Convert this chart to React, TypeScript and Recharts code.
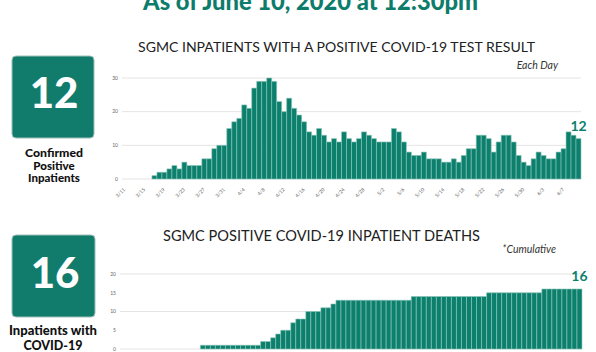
import React from 'react';
import { BarChart, Bar, XAxis, YAxis, CartesianGrid, LabelList } from 'recharts';

const dates: string[] = [
  '3/11','3/12','3/13','3/14','3/15','3/16','3/17','3/18','3/19','3/20','3/21','3/22','3/23','3/24','3/25','3/26','3/27','3/28','3/29','3/30','3/31',
  '4/1','4/2','4/3','4/4','4/5','4/6','4/7','4/8','4/9','4/10','4/11','4/12','4/13','4/14','4/15','4/16','4/17','4/18','4/19','4/20','4/21','4/22','4/23','4/24','4/25','4/26','4/27','4/28','4/29','4/30',
  '5/1','5/2','5/3','5/4','5/5','5/6','5/7','5/8','5/9','5/10','5/11','5/12','5/13','5/14','5/15','5/16','5/17','5/18','5/19','5/20','5/21','5/22','5/23','5/24','5/25','5/26','5/27','5/28','5/29','5/30','5/31',
  '6/1','6/2','6/3','6/4','6/5','6/6','6/7','6/8','6/9','6/10',
];

const dailyInpatients: number[] = [
  0,0,0,0,0,0,1,2,2,3,4,3,5,4,4,4,6,6,9,10,10,
  15,17,18,22,21,27,29,29,30,29,23,20,24,21,19,17,14,13,15,13,11,12,11,14,12,11,12,14,13,12,
  11,11,11,15,14,11,8,7,7,8,6,6,6,5,5,6,5,7,9,9,13,13,12,8,11,13,13,11,7,5,4,
  6,8,7,6,6,8,9,14,13,12,
];

const cumulativeDeaths: number[] = [
  0,0,0,0,0,0,0,0,0,0,0,0,0,0,0,0,1,1,1,1,1,
  1,1,1,1,1,1,1,2,2,3,4,5,5,7,8,8,10,10,10,11,11,12,13,13,13,13,13,13,13,13,
  13,13,13,13,13,13,13,14,14,14,14,14,14,14,14,14,14,14,14,14,14,14,15,15,15,15,15,15,15,15,15,15,15,
  16,16,16,16,16,16,16,16,16,16,
];

const topTicks: number[] = [0, 10, 20, 30];
const bottomTicks: number[] = [0, 5, 10, 15, 20];

const TEAL = '#0c7f6d';
const lastIdx = dates.length - 1;
const dailyData = dates.map((d, i) => ({ date: d, v: dailyInpatients[i], lbl: i === lastIdx ? dailyInpatients[i] : null }));
const deathData = dates.map((d, i) => ({ date: d, v: cumulativeDeaths[i], lbl: i === lastIdx ? cumulativeDeaths[i] : null }));

const RotTick = (props: any) => {
  const { x, y, payload } = props;
  const tx = x + 1;
  const ty = y + 3;
  return (
    <text x={tx} y={ty} transform={`rotate(-45 ${tx} ${ty})`} textAnchor="end" fontSize={5} fill="#666" fontFamily="Lato">
      {payload.value}
    </text>
  );
};

const EndLabel = (props: any) => {
  const { x, y, width, value } = props;
  if (value === null || value === undefined) return null;
  return (
    <text x={Number(x) + Number(width) / 2} y={Number(y) - 8} textAnchor="middle" fontSize={14} fontWeight={700} fill={TEAL} fontFamily="Lato">
      {value}
    </text>
  );
};

const font = 'Lato, "Noto Sans", sans-serif';

export default function App() {
  return (
    <div style={{ position: 'fixed', left: 0, top: 0, width: 596, height: 352, overflow: 'hidden', background: '#fff' }}>
      <svg width={596} height={352} style={{ position: 'absolute', left: 0, top: 0 }}>
        <text x={310.5} y={10} textAnchor="middle" fontFamily={font} fontWeight={900} fontSize={24} fill="#0e7c6b" textLength={335} lengthAdjust="spacingAndGlyphs">
          As of June 10, 2020 at 12:30pm
        </text>
        <text x={336.5} y={52} textAnchor="middle" fontFamily={font} fontSize={14} fill="#222" textLength={397} lengthAdjust="spacingAndGlyphs">
          SGMC INPATIENTS WITH A POSITIVE COVID-19 TEST RESULT
        </text>
        <text x={558} y={69} textAnchor="end" fontFamily={font} fontStyle="italic" fontSize={10.5} fill="#333">
          Each Day
        </text>
        <text x={321.5} y={241} textAnchor="middle" fontFamily={font} fontSize={15} fill="#222" textLength={317} lengthAdjust="spacingAndGlyphs">
          SGMC POSITIVE COVID-19 INPATIENT DEATHS
        </text>
        <text x={556} y={253} textAnchor="end" fontFamily={font} fontStyle="italic" fontSize={10.5} fill="#333">
          *Cumulative
        </text>

        <rect x={12} y={56} width={82} height={82} rx={4} fill="#127c6c" stroke="#9dbfb8" strokeWidth={1} />
        <text x={54} y={108} textAnchor="middle" fontFamily={font} fontWeight={900} fontSize={42} fill="#fff">12</text>
        <text x={54} y={157} textAnchor="middle" fontFamily={font} fontWeight={900} fontSize={11.5} fill="#111" textLength={58} lengthAdjust="spacingAndGlyphs">Confirmed</text>
        <text x={54} y={169.5} textAnchor="middle" fontFamily={font} fontWeight={900} fontSize={11.5} fill="#111">Positive</text>
        <text x={54} y={182} textAnchor="middle" fontFamily={font} fontWeight={900} fontSize={11.5} fill="#111">Inpatients</text>

        <rect x={12} y={235} width={83} height={82} rx={4} fill="#127c6c" stroke="#9dbfb8" strokeWidth={1} />
        <text x={55} y={288} textAnchor="middle" fontFamily={font} fontWeight={900} fontSize={42} fill="#fff">16</text>
        <text x={53} y={335} textAnchor="middle" fontFamily={font} fontWeight={900} fontSize={12.5} fill="#111" textLength={88} lengthAdjust="spacingAndGlyphs">Inpatients with</text>
        <text x={53} y={350} textAnchor="middle" fontFamily={font} fontWeight={900} fontSize={12.5} fill="#111">COVID-19</text>
      </svg>

      <div style={{ position: 'absolute', left: 0, top: 0 }}>
        <BarChart width={596} height={200} data={dailyData} margin={{ top: 78, right: 15, bottom: 1, left: 102 }} barCategoryGap={0}>
          <CartesianGrid horizontal vertical={false} stroke="#e4e4e4" />
          <XAxis dataKey="date" height={20} interval={3} axisLine={false} tickLine={false} tick={<RotTick />} />
          <YAxis width={20} domain={[0, 30]} ticks={topTicks} axisLine={false} tickLine={false} tickSize={0} tickMargin={4} tick={{ fontSize: 5, fill: '#666', fontFamily: 'Lato' }} />
          <Bar dataKey="v" fill={TEAL} stroke="#8cc7bb" strokeWidth={0.6} isAnimationActive={false}>
            <LabelList dataKey="lbl" content={<EndLabel />} />
          </Bar>
        </BarChart>
      </div>

      <div style={{ position: 'absolute', left: 0, top: 250 }}>
        <BarChart width={596} height={130} data={deathData} margin={{ top: 24, right: 14, bottom: 11, left: 100 }} barCategoryGap={0}>
          <CartesianGrid horizontal vertical={false} stroke="#e4e4e4" />
          <XAxis dataKey="date" height={20} interval={3} axisLine={false} tickLine={false} tick={<RotTick />} />
          <YAxis width={20} domain={[0, 20]} ticks={bottomTicks} axisLine={false} tickLine={false} tickSize={0} tickMargin={4} tick={{ fontSize: 5, fill: '#666', fontFamily: 'Lato' }} />
          <Bar dataKey="v" fill={TEAL} stroke="#8cc7bb" strokeWidth={0.6} isAnimationActive={false}>
            <LabelList dataKey="lbl" content={<EndLabel />} />
          </Bar>
        </BarChart>
      </div>
    </div>
  );
}
